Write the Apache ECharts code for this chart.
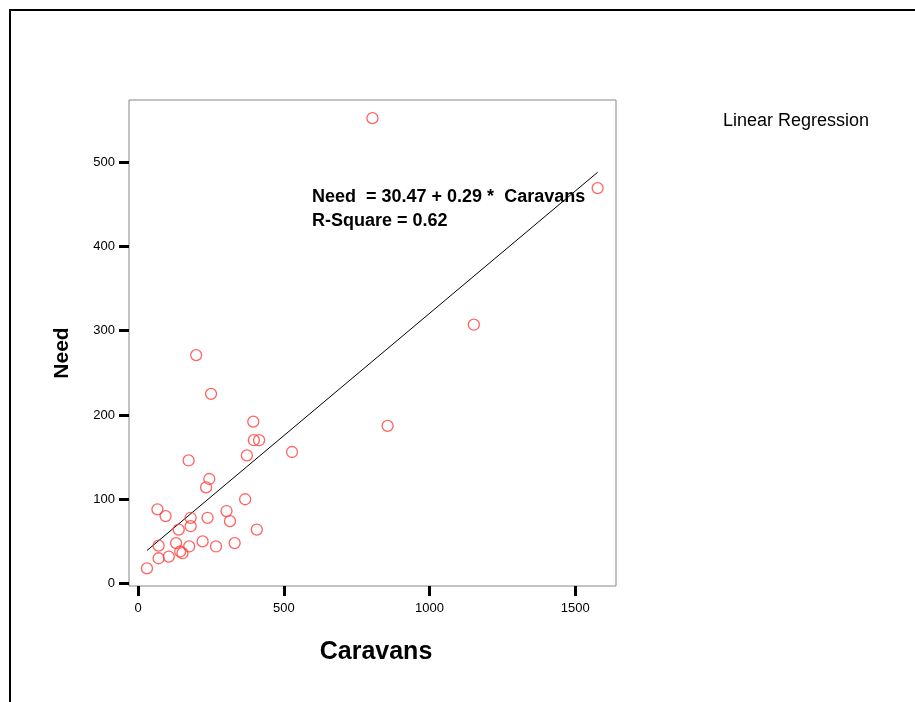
<!DOCTYPE html>
<html>
<head>
<meta charset="utf-8">
<script src="https://cdn.jsdelivr.net/npm/echarts@6/dist/echarts.min.js"></script>
<style>
  html, body { margin: 0; padding: 0; background: #fff; }
  #chart { width: 915px; height: 702px; }
</style>
</head>
<body>
<div id="chart"></div>
<script>
// caravans (x) vs need (y)
const caravans = [30, 70, 105, 70, 130, 144, 152, 175, 221, 267, 331, 407, 66, 94, 139, 180, 180, 238,
  303, 315, 367, 233, 244, 173, 373, 397, 415, 395, 528, 250, 199, 856, 1152, 804, 1577]
const need = [18, 30, 32, 45, 48, 38, 36, 44, 50, 44, 48, 64, 88, 80, 64, 78, 68, 78,
  86, 74, 100, 114, 124, 146, 152, 170, 170, 192, 156, 225, 271, 187, 307, 552, 469]

const xTicks = [0, 500, 1000, 1500]
const yTicks = [0, 100, 200, 300, 400, 500]

// fitted line  Need = 30.47 + 0.29 * Caravans
const intercept = 30.47
const slope = 0.29
const rSquare = 0.62

const points = caravans.map((c, i) => [c, need[i]])
const xLo = Math.min(...caravans)
const xHi = Math.max(...caravans)
const fitLine = [[xLo, intercept + slope * xLo], [xHi, intercept + slope * xHi]]

const chart = echarts.init(document.getElementById('chart'))

const tickStyle = { show: true, inside: false, length: 10, lineStyle: { color: '#000', width: 3 } }
const labelFont = { color: '#000', fontSize: 13, fontFamily: 'Liberation Sans, Arial, sans-serif' }

const option = {
  animation: false,
  grid: {
    left: 129, right: 299, top: 100, bottom: 116,
    show: true, borderColor: '#888', borderWidth: 1, backgroundColor: '#fff'
  },
  xAxis: {
    type: 'value',
    min: -31.6,
    max: 1640,
    axisLine: { show: false, onZero: false },
    splitLine: { show: false },
    axisTick: Object.assign({ customValues: xTicks }, tickStyle),
    axisLabel: Object.assign({ customValues: xTicks, margin: 16, formatter: v => String(v) }, labelFont)
  },
  yAxis: {
    type: 'value',
    min: -2.9,
    max: 573.5,
    axisLine: { show: false, onZero: false },
    splitLine: { show: false },
    axisTick: Object.assign({ customValues: yTicks }, tickStyle),
    axisLabel: Object.assign({ customValues: yTicks, margin: 14, formatter: v => String(v) }, labelFont)
  },
  series: [
    {
      name: 'Fit',
      type: 'line',
      data: fitLine,
      symbol: 'none',
      lineStyle: { color: '#000', width: 1 },
      z: 2
    },
    {
      name: 'Need',
      type: 'scatter',
      data: points,
      symbol: 'circle',
      symbolSize: 11,
      itemStyle: { color: 'transparent', borderColor: '#ff3c3c', borderWidth: 1.3 },
      z: 3
    }
  ],
  graphic: [
    {
      type: 'rect',
      shape: { x: 10, y: 10, width: 1000, height: 1000 },
      style: { fill: 'none', stroke: '#000', lineWidth: 2 },
      silent: true
    },
    {
      type: 'text',
      left: 723, top: 112,
      style: { text: 'Linear Regression', fill: '#000', font: '18px "Liberation Sans", Arial, sans-serif' }
    },
    {
      type: 'text',
      left: 312, top: 185,
      style: {
        text: 'Need  = ' + intercept.toFixed(2) + ' + ' + slope.toFixed(2) + ' *  Caravans\nR-Square = ' + rSquare.toFixed(2),
        fill: '#000',
        lineHeight: 24,
        font: 'bold 18px "Liberation Sans", Arial, sans-serif'
      }
    },
    {
      type: 'text',
      x: 376, y: 652,
      style: {
        text: 'Caravans', fill: '#000', align: 'center', verticalAlign: 'middle',
        font: 'bold 25px "Liberation Sans", Arial, sans-serif'
      }
    },
    {
      type: 'text',
      x: 62, y: 353,
      rotation: Math.PI / 2,
      style: {
        text: 'Need', fill: '#000', align: 'center', verticalAlign: 'middle',
        font: 'bold 21px "Liberation Sans", Arial, sans-serif'
      }
    }
  ]
}

chart.setOption(option)
</script>
</body>
</html>
